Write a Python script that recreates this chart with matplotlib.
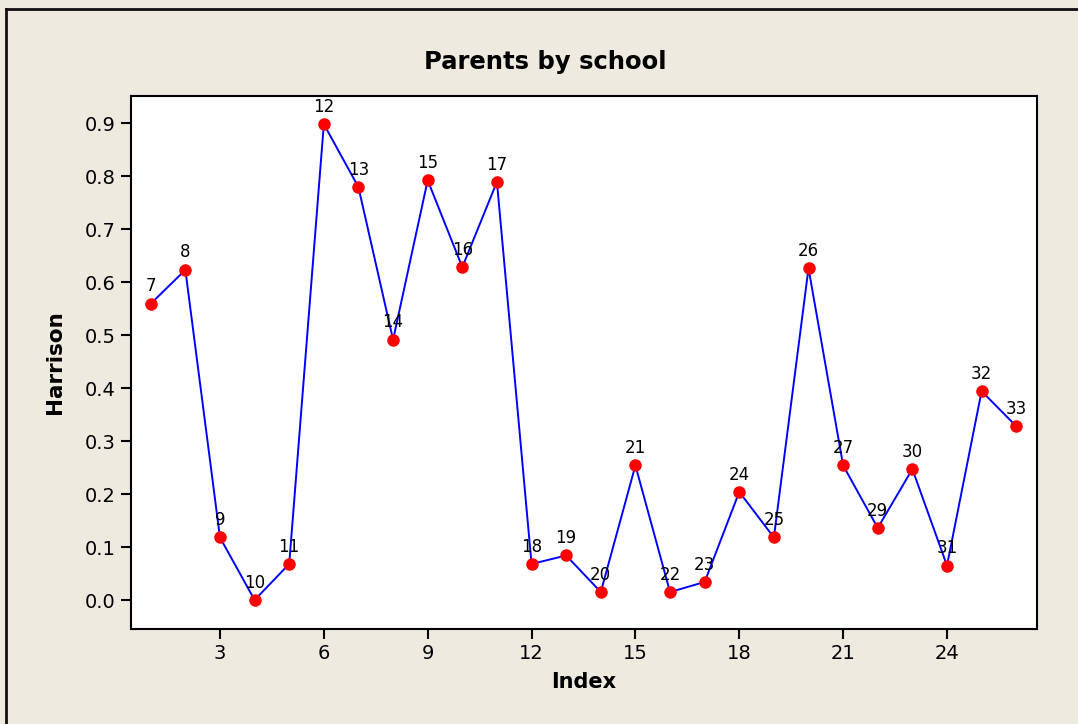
import matplotlib
matplotlib.use("Agg")
import matplotlib.pyplot as plt
from matplotlib.lines import Line2D

# Harrison proportion for each index, with the row label shown beside each point
index = list(range(1, 27))
harrison = [0.559, 0.623, 0.118, 0.000, 0.068, 0.898, 0.779, 0.491, 0.792, 0.628,
            0.789, 0.068, 0.084, 0.015, 0.254, 0.015, 0.034, 0.204, 0.118, 0.626,
            0.254, 0.136, 0.247, 0.065, 0.394, 0.328]
row_labels = ["7", "8", "9", "10", "11", "12", "13", "14", "15", "16", "17", "18", "19",
              "20", "21", "22", "23", "24", "25", "26", "27", "29", "30", "31", "32", "33"]
x_ticks = [3, 6, 9, 12, 15, 18, 21, 24]
y_ticks = [0.0, 0.1, 0.2, 0.3, 0.4, 0.5, 0.6, 0.7, 0.8, 0.9]

plt.rcParams["font.family"] = ["DejaVu Sans"]

W, H = 1078, 724
fig = plt.figure(figsize=(W / 100, H / 100), dpi=100)
fig.patch.set_facecolor("#EEEAE0")

# window frame along the top and left edges
fig.add_artist(Line2D([6 / W, 1.0], [1 - 9 / H, 1 - 9 / H], color="#111111", lw=2.0))
fig.add_artist(Line2D([6 / W, 6 / W], [0.0, 1 - 9 / H], color="#111111", lw=2.0))

ax = fig.add_axes([131 / W, 1 - 629 / H, (1037 - 131) / W, (629 - 96) / H])
ax.set_facecolor("white")

ax.plot(index, harrison, color="#0000FF", lw=1.4, zorder=2)
ax.plot(index, harrison, "o", color="#FF0000", markersize=8, zorder=3)

for xi, yi, lab in zip(index, harrison, row_labels):
    ax.annotate(lab, (xi, yi), xytext=(0, 6), textcoords="offset points",
                ha="center", va="bottom", fontsize=12, color="black", zorder=4)

ax.set_xlim(0.43, 26.6)
ax.set_ylim(-0.0547, 0.951)
ax.set_xticks(x_ticks)
ax.set_yticks(y_ticks)
ax.set_yticklabels([f"{v:.1f}" for v in y_ticks])

ax.tick_params(axis="both", direction="out", length=7, width=1.5, labelsize=14,
               pad=4, color="black")
for s in ax.spines.values():
    s.set_linewidth(1.5)
    s.set_color("black")

fig.text(545 / W, 1 - 62 / H, "Parents by school", ha="center", va="center",
         fontsize=17.5, fontweight="bold")
ax.set_xlabel("Index", fontsize=15, fontweight="bold", labelpad=6)
ax.set_ylabel("Harrison", fontsize=15.5, fontweight="heavy", labelpad=14)

fig.savefig("out.png", dpi=100, facecolor=fig.get_facecolor())
